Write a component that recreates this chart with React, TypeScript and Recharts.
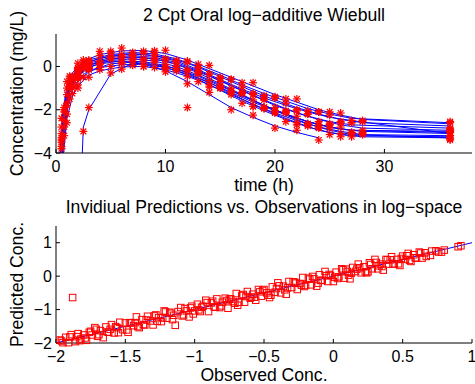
import React from 'react';
import { ComposedChart, Line, Scatter, XAxis, YAxis } from 'recharts';

const FONT = '"Liberation Sans", Arial, Helvetica, sans-serif';

// ---------- Top panel: concentration-time data ----------
const timesA = [0.25, 0.5, 1, 1.5, 2, 3, 4, 6, 8, 10, 12, 14, 16, 18, 20, 22, 24, 26, 28, 36];
const timesB = [0.5, 0.75, 1.25, 2, 2.5, 3, 5, 7, 9, 11, 13, 15, 17, 19, 21, 23, 25, 27, 36];

const s1Pred = [-5.5, -2.6, -0.9, -0.3, 0.0, 0.35, 0.55, 0.72, 0.74, 0.6, 0.3, -0.1, -0.5, -0.9, -1.3, -1.65, -2.0, -2.25, -2.45, -2.65];
const s1Obs = [null, -2.4, -0.7, -0.45, 0.15, 0.25, 0.7, 0.85, 0.62, 0.75, 0.2, 0.05, -0.6, -0.75, -1.4, -1.5, -2.1, -2.15, -2.55, -2.6];
const s2Pred = [-6, -3.2, -1.2, -0.5, -0.15, 0.2, 0.38, 0.54, 0.55, 0.42, 0.15, -0.25, -0.7, -1.15, -1.55, -1.9, -2.2, -2.45, -2.6, -2.75];
const s2Obs = [null, -3.4, -1.0, -0.6, -0.05, 0.1, 0.5, 0.45, 0.7, 0.3, 0.25, -0.35, -0.6, -1.3, -1.45, -2.0, -2.1, -2.55, -2.5, -2.85];
const s3Pred = [-7, -4.2, -1.6, -0.8, -0.4, 0.05, 0.25, 0.4, 0.4, 0.25, -0.05, -0.45, -0.9, -1.35, -1.8, -2.15, -2.45, -2.7, -2.85, -2.95];
const s3Obs = [null, null, -1.8, -0.65, -0.5, 0.2, 0.15, 0.55, 0.3, 0.35, -0.15, -0.35, -1.0, -1.25, -1.9, -2.05, -2.55, -2.6, -2.95, -3.05];
const s4Pred = [-6.5, -3.6, -1.5, -0.8, -0.45, -0.05, 0.12, 0.25, 0.22, 0.05, -0.3, -0.75, -1.25, -1.75, -2.2, -2.6, -2.95, -3.15, -3.25, -3.3];
const s4Obs = [null, -3.3, -1.3, -0.9, -0.3, -0.15, 0.25, 0.15, 0.35, -0.05, -0.2, -0.85, -1.15, -1.85, -2.1, -2.7, -2.85, -3.25, -3.15, -3.4];
const s5Pred = [-7.5, -4.5, -2.0, -1.1, -0.7, -0.25, -0.05, 0.08, 0.1, -0.05, -0.35, -0.75, -1.2, -1.65, -2.05, -2.4, -2.7, -2.9, -3.0, -3.1];
const s5Obs = [null, null, -2.2, -1.0, -0.85, -0.1, -0.15, 0.2, 0.0, 0.1, -0.45, -0.65, -1.3, -1.55, -2.15, -2.3, -2.8, -2.8, -3.1, -3.0];
const s6Pred = [-8, -5, -2.4, -1.4, -0.9, -0.4, -0.2, -0.02, 0.0, -0.15, -0.45, -0.85, -1.3, -1.75, -2.15, -2.5, -2.8, -3.0, -3.15, -3.2];
const s6Obs = [null, null, -2.6, -1.25, -1.0, -0.5, -0.05, -0.12, 0.1, -0.25, -1.9, -0.95, -1.2, -1.85, -2.05, -2.6, -2.7, -3.1, -3.05, -3.3];
const s7Pred = [-6.8, -3.9, -1.55, -0.75, -0.35, 0.05, 0.2, 0.25, 0.1, -0.2, -0.7, -1.3, -1.9, -2.35, -2.75, -3.05, -3.3, null, null, null];
const s7Obs = [null, -3.7, -1.7, -0.6, -0.45, 0.15, 0.1, 0.4, 0.0, -0.1, -0.8, -1.2, -2.0, -2.25, -2.85, -2.95, -3.4, null, null, null];

const s8Pred = [-3.0, -1.7, -0.6, -0.05, 0.15, 0.3, 0.55, 0.65, 0.58, 0.35, 0.0, -0.4, -0.85, -1.25, -1.6, -1.95, -2.2, -2.4, -2.6];
const s8Obs = [-2.8, -1.9, -0.45, -0.15, 0.3, 0.2, 0.7, 0.55, 0.72, 0.25, 0.1, -0.5, -0.75, -1.35, -1.5, -2.05, -2.1, -2.5, -2.55];
const s9Pred = [-3.6, -2.1, -0.85, -0.25, 0.0, 0.15, 0.42, 0.5, 0.42, 0.18, -0.2, -0.65, -1.1, -1.55, -1.95, -2.3, -2.55, -2.7, -2.85];
const s9Obs = [-3.5, -2.0, -1.0, -0.1, -0.1, 0.3, 0.35, 0.65, 0.3, 0.28, -0.3, -0.55, -1.2, -1.45, -2.05, -2.2, -2.65, -2.6, -2.95];
const s10Pred = [-4.3, -2.6, -1.1, -0.45, -0.2, -0.02, 0.28, 0.35, 0.25, 0.0, -0.4, -0.85, -1.35, -1.8, -2.2, -2.55, -2.8, -2.95, -3.05];
const s10Obs = [null, -2.8, -0.95, -0.55, -0.05, -0.1, 0.4, 0.25, 0.38, -0.1, -0.3, -0.95, -1.25, -1.9, -2.1, -2.65, -2.7, -3.05, -2.95];
const s11Pred = [-5.0, -3.0, -1.35, -0.65, -0.38, -0.2, 0.12, 0.2, 0.08, -0.2, -0.6, -1.1, -1.6, -2.05, -2.45, -2.8, -3.05, -3.2, -3.25];
const s11Obs = [null, -3.2, -1.5, -0.55, -0.5, -0.05, 0.0, 0.35, -0.05, -0.1, -0.7, -1.0, -1.7, -1.95, -2.55, -2.7, -3.15, -3.1, -3.35];
const s12Pred = [-3.3, -1.9, -0.7, -0.15, 0.08, 0.22, 0.5, 0.6, 0.5, 0.25, -0.15, -0.6, -1.05, -1.45, -1.8, -2.1, -2.35, -2.5, -3.1];
const s12Obs = [-3.1, -2.1, -0.55, -0.25, 0.2, 0.1, 0.62, 0.5, 0.65, 0.15, -0.05, -0.7, -0.95, -1.55, -1.7, -2.2, -2.25, -2.6, -3.2];
const s13Pred = [null, null, null, -9, -2.8, -2.0, -0.35, 0.15, 0.1, -0.1, -0.45, -0.9, -1.35, -1.8, -2.2, -2.55, -2.8, -2.95, -3.0];
const s13Obs = [null, null, null, null, -3.0, -1.9, -0.3, 0.05, 0.2, -0.2, -0.35, -1.0, -1.25, -1.9, -2.1, -2.65, -2.7, -3.05, -2.9];
const s14Pred = [-4.0, -2.3, -0.95, -0.35, -0.1, 0.05, 0.35, 0.45, 0.35, 0.1, -0.3, -0.8, -1.3, -1.8, -2.25, -2.65, -2.95, -3.15, -3.3];
const s14Obs = [-3.8, -2.5, -0.8, -0.45, 0.05, -0.05, 0.45, 0.35, 0.5, 0.0, -0.2, -0.9, -1.2, -1.9, -2.15, -2.75, -2.85, -3.25, -3.2];

const subjects = [
  { t: timesA, pred: s1Pred, obs: s1Obs },
  { t: timesA, pred: s2Pred, obs: s2Obs },
  { t: timesA, pred: s3Pred, obs: s3Obs },
  { t: timesA, pred: s4Pred, obs: s4Obs },
  { t: timesA, pred: s5Pred, obs: s5Obs },
  { t: timesA, pred: s6Pred, obs: s6Obs },
  { t: timesA, pred: s7Pred, obs: s7Obs },
  { t: timesB, pred: s8Pred, obs: s8Obs },
  { t: timesB, pred: s9Pred, obs: s9Obs },
  { t: timesB, pred: s10Pred, obs: s10Obs },
  { t: timesB, pred: s11Pred, obs: s11Obs },
  { t: timesB, pred: s12Pred, obs: s12Obs },
  { t: timesB, pred: s13Pred, obs: s13Obs },
  { t: timesB, pred: s14Pred, obs: s14Obs },
];

const topXTicks = [0, 10, 20, 30];
const topYTicks = [-4, -2, 0];

// ---------- Bottom panel: predictions vs observations ----------
const observedConc = [
  -1.97, -1.95, -1.93, -1.91, -1.89, -1.88, -1.86, -1.84, -1.82, -1.80,
  -1.78, -1.76, -1.74, -1.72, -1.70, -1.68, -1.66, -1.64, -1.62, -1.60,
  -1.58, -1.56, -1.54, -1.52, -1.50, -1.48, -1.46, -1.44, -1.42, -1.40,
  -1.38, -1.36, -1.34, -1.32, -1.30, -1.28, -1.26, -1.24, -1.22, -1.20,
  -1.18, -1.16, -1.14, -1.12, -1.10, -1.08, -1.06, -1.04, -1.02, -1.00,
  -0.98, -0.96, -0.94, -0.92, -0.90, -0.88, -0.86, -0.84, -0.82, -0.80,
  -0.78, -0.76, -0.74, -0.72, -0.70, -0.68, -0.66, -0.64, -0.62, -0.60,
  -0.58, -0.56, -0.54, -0.52, -0.50, -0.48, -0.46, -0.44, -0.42, -0.40,
  -0.38, -0.36, -0.34, -0.32, -0.30, -0.28, -0.26, -0.24, -0.22, -0.20,
  -0.18, -0.16, -0.14, -0.12, -0.10, -0.08, -0.06, -0.04, -0.02, 0.00,
  0.02, 0.04, 0.06, 0.08, 0.10, 0.12, 0.14, 0.16, 0.18, 0.20,
  0.22, 0.24, 0.26, 0.28, 0.30, 0.32, 0.34, 0.36, 0.38, 0.40,
  0.42, 0.44, 0.46, 0.48, 0.50, 0.52, 0.54, 0.56, 0.58, 0.60,
  0.62, 0.64, 0.66, 0.70, 0.74, 0.78, 0.90, 0.92,
  -1.96, -1.90, -1.83, -1.75, -1.69, -1.61, -1.55, -1.47, -1.41, -1.35,
  -1.27, -1.21, -1.15, -1.07, -1.01, -0.95, -0.87, -0.81, -0.75, -0.69,
  -0.63, -0.57, -0.51, -0.45, -0.39, -0.33, -0.27, -0.21, -0.15, -0.09,
  -0.03, 0.03, 0.09, 0.13, 0.19, 0.25, 0.31, 0.35, 0.41, 0.47,
  0.53, 0.59, 0.63, 0.67, 0.71, 0.76, 0.80,
  -1.85, -1.79, -1.71, -1.63, -1.57, -1.49, -1.43, -1.37, -1.29, -1.23,
  -1.17, -1.09, -1.03, -0.97, -0.91, -0.85, -0.77, -0.71, -0.65, -0.59,
  -0.53, -0.47, -0.41, -0.35, -0.29, -0.23, -0.17, -0.11, -0.05, 0.01,
  0.07, 0.11, 0.17, 0.23, 0.27, 0.33, 0.39, 0.43, 0.49, 0.55,
];
const predictedConc = [
  -1.91, -1.99, -1.83, -1.99, -1.75, -0.64, -1.96, -1.72, -1.88, -1.76,
  -1.92, -1.68, -1.76, -1.54, -1.80, -1.63, -1.84, -1.52, -1.68, -1.45,
  -1.70, -1.54, -1.38, -1.60, -1.40, -1.68, -1.40, -1.48, -1.22, -1.54,
  -1.30, -1.46, -1.20, -1.34, -1.46, -1.16, -1.24, -1.36, -1.04, -1.26,
  -1.08, -1.30, -1.47, -1.06, -0.94, -1.16, -1.04, -1.22, -0.90, -1.04,
  -0.84, -1.06, -0.90, -0.72, -1.06, -0.80, -0.92, -0.68, -0.94, -0.78,
  -0.66, -0.96, -0.68, -0.76, -0.52, -0.78, -0.58, -0.78, -0.46, -0.66,
  -0.54, -0.72, -0.40, -0.60, -0.40, -0.50, -0.64, -0.32, -0.48, -0.20,
  -0.50, -0.30, -0.54, -0.16, -0.34, -0.18, -0.40, -0.22, -0.04, -0.28,
  -0.06, -0.26, -0.08, -0.30, 0.04, -0.12, 0.14, -0.16, 0.02, -0.16,
  0.12, -0.02, 0.22, -0.06, 0.14, -0.08, 0.26, 0.14, 0.36, 0.10,
  0.28, 0.10, 0.40, 0.22, 0.50, 0.22, 0.36, 0.18, 0.50, 0.36,
  0.58, 0.36, 0.50, 0.32, 0.60, 0.50, 0.68, 0.44, 0.64, 0.54,
  0.72, 0.54, 0.70, 0.62, 0.76, 0.72, 0.88, 0.91,
  -1.94, -1.82, -1.93, -1.65, -1.75, -1.59, -1.69, -1.39, -1.51, -1.31,
  -1.35, -1.07, -1.17, -0.97, -1.13, -0.93, -0.75, -0.89, -0.69, -0.87,
  -0.61, -0.63, -0.43, -0.57, -0.29, -0.35, -0.21, -0.31, -0.01, -0.13,
  0.05, -0.07, 0.21, 0.09, 0.25, 0.13, 0.41, 0.29, 0.49, 0.37,
  0.61, 0.55, 0.69, 0.59, 0.75, 0.72, 0.78,
  -1.81, -1.85, -1.59, -1.67, -1.51, -1.61, -1.39, -1.45, -1.19, -1.25,
  -1.11, -1.19, -0.95, -1.01, -0.79, -0.93, -0.73, -0.81, -0.55, -0.63,
  -0.47, -0.57, -0.37, -0.41, -0.17, -0.27, -0.09, -0.21, 0.01, -0.03,
  0.19, 0.03, 0.21, 0.13, 0.35, 0.31, 0.49, 0.37, 0.53, 0.47,
];
const identityX = [-2, 1];
const identityY = [-2, 1];
const botXTicks = [-2, -1.5, -1, -0.5, 0, 0.5, 1];
const botYTicks = [-2, -1, 0, 1];

// ---------- derived tables ----------
const obsPoints = subjects.flatMap((s) =>
  s.t.map((t, i) => ({ x: t, y: s.obs[i] })).filter((p) => p.y !== null)
);
const predLines = subjects.map((s) => s.t.map((t, i) => ({ x: t, y: s.pred[i] })));
const scatterPoints = observedConc.map((o, i) => ({ x: o, y: predictedConc[i] }));
const identityLine = identityX.map((x, i) => ({ x, y: identityY[i] }));

const fmt = (v: number) => (v < 0 ? '\u2212' + String(Math.abs(v)) : String(v));

const tickStyle = { fontSize: 16, fill: '#000', fontFamily: FONT };
const lineStyle = { stroke: '#000', strokeWidth: 1 };

const Asterisk = (props: any) => {
  const { cx, cy } = props;
  if (cx == null || cy == null) return null;
  const r = 4;
  const d = 2.9;
  return (
    <g stroke="#ff0000" strokeWidth={1.2}>
      <line x1={cx - r} y1={cy} x2={cx + r} y2={cy} />
      <line x1={cx} y1={cy - r} x2={cx} y2={cy + r} />
      <line x1={cx - d} y1={cy - d} x2={cx + d} y2={cy + d} />
      <line x1={cx - d} y1={cy + d} x2={cx + d} y2={cy - d} />
    </g>
  );
};

const Square = (props: any) => {
  const { cx, cy } = props;
  if (cx == null || cy == null) return null;
  return <rect x={cx - 3.25} y={cy - 3.25} width={6.5} height={6.5} fill="none" stroke="#ff0000" strokeWidth={1} />;
};

const textProps = { fontFamily: FONT, fontSize: 17.6, fill: '#000', textAnchor: 'middle' as const };

export default function App() {
  return (
    <div style={{ position: 'absolute', left: 0, top: 0, width: 475, height: 384, background: '#fff' }}>
      <div style={{ position: 'absolute', left: 0, top: 0 }}>
        <ComposedChart width={475} height={384} margin={{ top: 34, right: 3, bottom: 201, left: 0 }}>
          <XAxis
            xAxisId="b" dataKey="x" type="number" domain={[0, 38]} ticks={topXTicks} allowDataOverflow
            interval={0} orientation="bottom" height={30} tickSize={-4} tickMargin={12}
            tickFormatter={fmt} tick={tickStyle} axisLine={lineStyle} tickLine={lineStyle}
          />
          <XAxis
            xAxisId="t" dataKey="x" type="number" domain={[0, 38]} ticks={topXTicks} allowDataOverflow
            interval={0} orientation="top" height={0} tickSize={-4} tick={false}
            axisLine={lineStyle} tickLine={lineStyle}
          />
          <YAxis
            yAxisId="l" dataKey="y" type="number" domain={[-4, 1.5]} ticks={topYTicks} allowDataOverflow
            interval={0} width={56} tickSize={-4} tickMargin={8} tickFormatter={fmt} tick={tickStyle}
            axisLine={lineStyle} tickLine={lineStyle}
          />
          <YAxis
            yAxisId="r" dataKey="y" type="number" domain={[-4, 1.5]} ticks={topYTicks} allowDataOverflow
            interval={0} orientation="right" width={0} tickSize={-4} tick={false}
            axisLine={lineStyle} tickLine={lineStyle}
          />
          <Scatter xAxisId="b" yAxisId="l" data={obsPoints} shape={Asterisk} isAnimationActive={false} />
          {predLines.map((d, i) => (
            <Line
              key={i} xAxisId="b" yAxisId="l" data={d} dataKey="y" type="linear" stroke="#0000ff"
              strokeWidth={1} dot={false} activeDot={false} isAnimationActive={false}
            />
          ))}
          <text x={264} y={21} {...textProps}>2 Cpt Oral log{'\u2212'}additive Wiebull</text>
          <text x={264} y={191} {...textProps}>time (h)</text>
          <text x={0} y={0} transform="translate(23.3, 93.5) rotate(-90)" {...textProps}>Concentration (mg/L)</text>
        </ComposedChart>
      </div>
      <div style={{ position: 'absolute', left: 0, top: 0 }}>
        <ComposedChart width={475} height={384} margin={{ top: 226, right: 3, bottom: 11, left: 0 }}>
          <XAxis
            xAxisId="b" dataKey="x" type="number" domain={[-2, 1]} ticks={botXTicks}
            interval={0} orientation="bottom" height={30} tickSize={-4} tickMargin={12}
            tickFormatter={fmt} tick={tickStyle} axisLine={lineStyle} tickLine={lineStyle}
          />
          <XAxis
            xAxisId="t" dataKey="x" type="number" domain={[-2, 1]} ticks={botXTicks}
            interval={0} orientation="top" height={0} tickSize={-4} tick={false}
            axisLine={lineStyle} tickLine={lineStyle}
          />
          <YAxis
            yAxisId="l" dataKey="y" type="number" domain={[-2, 1.5]} ticks={botYTicks}
            interval={0} width={56} tickSize={-4} tickMargin={8} tickFormatter={fmt} tick={tickStyle}
            axisLine={lineStyle} tickLine={lineStyle}
          />
          <YAxis
            yAxisId="r" dataKey="y" type="number" domain={[-2, 1.5]} ticks={botYTicks}
            interval={0} orientation="right" width={0} tickSize={-4} tick={false}
            axisLine={lineStyle} tickLine={lineStyle}
          />
          <Scatter xAxisId="b" yAxisId="l" data={scatterPoints} shape={Square} isAnimationActive={false} />
          <Line
            xAxisId="b" yAxisId="l" data={identityLine} dataKey="y" type="linear" stroke="#0000ff"
            strokeWidth={1} dot={false} activeDot={false} isAnimationActive={false}
          />
          <text x={264} y={212.5} {...textProps}>Invidiual Predictions vs. Observations in log{'\u2212'}space</text>
          <text x={264} y={380.5} {...textProps}>Observed Conc.</text>
          <text x={0} y={0} transform="translate(23.3, 284.5) rotate(-90)" {...textProps}>Predicted Conc.</text>
        </ComposedChart>
      </div>
    </div>
  );
}
